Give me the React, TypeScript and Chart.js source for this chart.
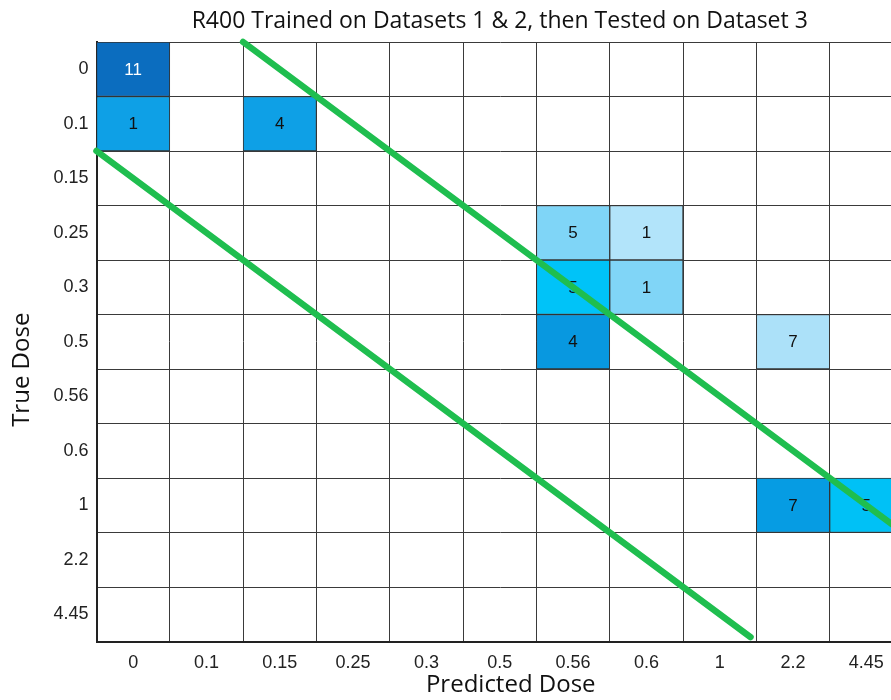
import React, { useEffect, useRef } from 'react';
import { Chart, registerables } from 'chart.js';

Chart.register(...registerables);

const chartTitle = 'R400 Trained on Datasets 1 & 2, then Tested on Dataset 3';
const xTitle = 'Predicted Dose';
const yTitle = 'True Dose';

const colLabels = ['0', '0.1', '0.15', '0.25', '0.3', '0.5', '0.56', '0.6', '1', '2.2', '4.45'];
const rowLabels = ['0', '0.1', '0.15', '0.25', '0.3', '0.5', '0.56', '0.6', '1', '2.2', '4.45'];

// non-empty cells: row index, column index, count
const cellRows = [0, 1, 1, 3, 3, 4, 4, 5, 5, 8, 8];
const cellCols = [0, 0, 2, 6, 7, 6, 7, 6, 9, 9, 10];
const cellCounts = [11, 1, 4, 5, 1, 5, 1, 4, 7, 7, 5];
const cellColors = [
  '#0b6dbf', '#0ea0e6', '#0ea0e6', '#7fd5f7', '#b2e4fa', '#00c3f8',
  '#80d5f7', '#0898e0', '#ace1f9', '#069ce3', '#00c1f6',
];
const cellTextColors = [
  '#ffffff', '#111111', '#111111', '#111111', '#111111', '#111111',
  '#111111', '#111111', '#111111', '#111111', '#111111',
];

// green band boundaries (in cell units)
const upperLineX = [2, 11];
const upperLineY = [0, 9];
const lowerLineX = [0, 8.92];
const lowerLineY = [2, 10.92];

const green = '#1fbe4f';
const gridColor = '#3a3a3a';

export default function App() {
  const canvasRef = useRef<HTMLCanvasElement | null>(null);

  useEffect(() => {
    const canvas = canvasRef.current;
    if (!canvas) return;

    const barSets = cellCounts.map((_, i) => ({
      type: 'bar' as const,
      data: colLabels.map((_c, c) => (c === cellCols[i] ? [cellRows[i], cellRows[i] + 1] : null)),
      backgroundColor: cellColors[i],
      borderColor: '#333333',
      borderWidth: 1,
      borderSkipped: false,
      barPercentage: 1,
      categoryPercentage: 1,
      grouped: false,
      xAxisID: 'x',
      yAxisID: 'y',
      order: 1,
    }));

    const lineSets = [
      { xs: upperLineX, ys: upperLineY },
      { xs: lowerLineX, ys: lowerLineY },
    ].map((l) => ({
      type: 'line' as const,
      data: l.xs.map((x, i) => ({ x, y: l.ys[i] })),
      borderColor: green,
      borderWidth: 6.5,
      borderCapStyle: 'round',
      pointRadius: 0,
      fill: false,
      clip: false,
      xAxisID: 'xl',
      yAxisID: 'y',
      order: 0,
    }));

    const cellLabelPlugin = {
      id: 'cellLabels',
      afterDatasetDraw(chart: any, args: any) {
        const i = args.index;
        if (i >= cellCounts.length) return;
        const meta = chart.getDatasetMeta(i);
        const el = meta.data[cellCols[i]];
        if (!el) return;
        const ctx = chart.ctx;
        ctx.save();
        ctx.font = '17px "Liberation Sans", Arial, sans-serif';
        ctx.fillStyle = cellTextColors[i];
        ctx.textAlign = 'center';
        ctx.textBaseline = 'middle';
        ctx.fillText(String(cellCounts[i]), el.x, (el.y + el.base) / 2 + 1);
        ctx.restore();
      },
    };

    const axisTitlePlugin = {
      id: 'axisTitles',
      afterDraw(chart: any) {
        const { ctx, chartArea } = chart;
        ctx.save();
        ctx.fillStyle = '#111111';
        ctx.font = '24px "Open Sans", sans-serif';
        ctx.textAlign = 'center';
        ctx.textBaseline = 'middle';
        ctx.fillText(xTitle, (chartArea.left + chartArea.right) / 2 + 11, 685);
        ctx.translate(22, (chartArea.top + chartArea.bottom) / 2 + 28);
        ctx.rotate(-Math.PI / 2);
        ctx.fillText(yTitle, 0, 0);
        ctx.restore();
      },
    };

    const chart = new Chart(canvas, {
      type: 'bar',
      data: {
        labels: colLabels,
        datasets: [...barSets, ...lineSets] as any,
      },
      options: {
        animation: false,
        responsive: false,
        devicePixelRatio: 1,
        layout: { padding: { left: 0, right: 1, top: 0, bottom: 0 } },
        plugins: {
          legend: { display: false },
          tooltip: { enabled: false },
          title: {
            display: true,
            text: chartTitle,
            fullSize: false,
            color: '#111111',
            font: { family: '"Open Sans", sans-serif', size: 23, weight: 'normal' },
            padding: { top: 8, bottom: 6.4 },
          },
        },
        scales: {
          x: {
            type: 'category',
            labels: colLabels,
            offset: true,
            grid: { offset: true, color: gridColor, lineWidth: 1, drawTicks: false },
            border: { color: '#222222', width: 2 },
            ticks: {
              font: { family: '"Liberation Sans", Arial, sans-serif', size: 18 },
              color: '#222222',
              padding: 11,
              maxRotation: 0,
              autoSkip: false,
            },
            afterFit(scale: any) {
              scale.height = 58.5;
            },
          },
          xl: { type: 'linear', min: 0, max: 11, offset: false, display: false },
          y: { type: 'linear', min: 0, max: 11, offset: false, reverse: true, display: false },
          yl: {
            type: 'category',
            labels: rowLabels,
            position: 'left',
            offset: true,
            grid: { offset: true, color: gridColor, lineWidth: 1, drawTicks: false },
            border: { color: '#222222', width: 2 },
            ticks: {
              font: { family: '"Liberation Sans", Arial, sans-serif', size: 18 },
              color: '#222222',
              padding: 8,
              autoSkip: false,
            },
            afterFit(scale: any) {
              scale.width = 96.5;
            },
          },
        } as any,
      },
      plugins: [cellLabelPlugin, axisTitlePlugin],
    } as any);

    return () => {
      chart.destroy();
    };
  }, []);

  return (
    <div
      style={{
        position: 'absolute',
        left: 0,
        top: 0,
        width: 891,
        height: 700,
        overflow: 'hidden',
        background: '#ffffff',
      }}
    >
      <canvas ref={canvasRef} width={904} height={700} style={{ display: 'block' }} />
    </div>
  );
}
